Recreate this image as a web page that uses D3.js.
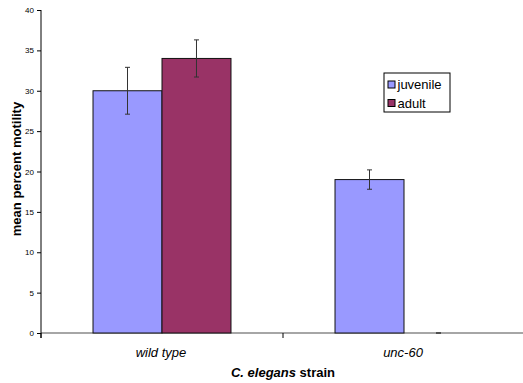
<!DOCTYPE html>
<html>
<head>
<meta charset="utf-8">
<script src="https://cdn.jsdelivr.net/npm/d3@7"></script>
<style>
  body { margin: 0; background: #fff; }
  svg { display: block; font-family: "Liberation Sans", Arial, sans-serif; }
</style>
</head>
<body>
<div class="chart"></div>
<script>
const categories = ["wild type", "unc-60"];
const series = ["juvenile", "adult"];
const juvenile = [30, 19];
const adult = [34, 0];
const juvenileErr = [2.9, 1.2];
const adultErr = [2.3, 0];
const yTicks = [0, 5, 10, 15, 20, 25, 30, 35, 40];
const colors = { juvenile: "#9999ff", adult: "#993366" };

const width = 523, height = 383;
const marginLeft = 41, marginTop = 10, plotBottom = 333, plotRight = 525;

const svg = d3.select(".chart").append("svg")
  .attr("width", width)
  .attr("height", height);

let x = d3.scaleBand().domain(categories).range([marginLeft, plotRight]).padding(0);
let x1 = d3.scaleBand().domain(series).range([0, x.bandwidth()]).paddingInner(0).paddingOuter(0.754);
let y = d3.scaleLinear().domain([0, 40]).range([plotBottom, marginTop]);

let rows = categories.map((c, i) => ({
  cat: c,
  vals: [
    { s: "juvenile", v: juvenile[i], e: juvenileErr[i] },
    { s: "adult", v: adult[i], e: adultErr[i] }
  ]
}));

// x axis line (grey)
svg.append("line")
  .attr("x1", marginLeft).attr("x2", width)
  .attr("y1", y(0)).attr("y2", y(0))
  .attr("stroke", "#888").attr("stroke-width", 1.5);

// category boundary ticks
svg.selectAll(".ctick")
  .data(categories)
  .join("line")
  .attr("x1", d => x(d)).attr("x2", d => x(d))
  .attr("y1", y(0)).attr("y2", y(0) + 5)
  .attr("stroke", "#000");

// bars
let groups = svg.selectAll(".grp")
  .data(rows)
  .join("g")
  .attr("transform", d => `translate(${x(d.cat)},0)`);

groups.selectAll("rect")
  .data(d => d.vals)
  .join("rect")
  .attr("x", d => x1(d.s))
  .attr("y", d => y(d.v))
  .attr("width", x1.bandwidth())
  .attr("height", d => y(0) - y(d.v))
  .attr("fill", d => colors[d.s])
  .attr("stroke", "#111")
  .attr("stroke-width", 1);

// error bars
let eb = groups.selectAll(".err")
  .data(d => d.vals)
  .join("g")
  .attr("stroke", "#333")
  .attr("stroke-width", 1);
eb.append("line")
  .attr("x1", d => x1(d.s) + x1.bandwidth() / 2)
  .attr("x2", d => x1(d.s) + x1.bandwidth() / 2)
  .attr("y1", d => y(d.v + d.e))
  .attr("y2", d => y(d.v - d.e));
eb.append("line")
  .attr("x1", d => x1(d.s) + x1.bandwidth() / 2 - 2.5)
  .attr("x2", d => x1(d.s) + x1.bandwidth() / 2 + 2.5)
  .attr("y1", d => y(d.v + d.e))
  .attr("y2", d => y(d.v + d.e));
eb.append("line")
  .attr("x1", d => x1(d.s) + x1.bandwidth() / 2 - 2.5)
  .attr("x2", d => x1(d.s) + x1.bandwidth() / 2 + 2.5)
  .attr("y1", d => y(d.v - d.e))
  .attr("y2", d => y(d.v - d.e));

// y axis
let yAxis = svg.append("g")
  .attr("transform", `translate(${marginLeft},0)`)
  .call(d3.axisLeft(y).tickValues(yTicks).tickSize(4).tickPadding(3));
yAxis.select(".domain").attr("d", `M-0,${marginTop}V${plotBottom + 5}`).attr("stroke", "#000");
yAxis.selectAll("text").attr("font-size", 8).attr("font-family", "Liberation Sans, Arial, sans-serif").attr("fill", "#000");

// category labels
svg.selectAll(".clabel")
  .data(categories)
  .join("text")
  .attr("x", d => x(d) + x.bandwidth() / 2 - 1)
  .attr("y", 357)
  .attr("text-anchor", "middle")
  .attr("font-size", 13)
  .attr("font-style", "italic")
  .text(d => d);

// x title
let xt = svg.append("text")
  .attr("x", 283)
  .attr("y", 377)
  .attr("text-anchor", "middle")
  .attr("font-size", 13)
  .attr("font-weight", "bold");
xt.append("tspan").attr("font-style", "italic").text("C. elegans");
xt.append("tspan").text(" strain");

// y title
svg.append("text")
  .attr("transform", "translate(21,169) rotate(-90)")
  .attr("text-anchor", "middle")
  .attr("font-size", 13)
  .attr("font-weight", "bold")
  .text("mean percent motility");

// legend
let lg = svg.append("g").attr("transform", "translate(384,73)");
lg.append("rect")
  .attr("width", 66).attr("height", 39)
  .attr("fill", "#fff").attr("stroke", "#000");
let items = lg.selectAll(".li")
  .data(series)
  .join("g")
  .attr("transform", (d, i) => `translate(4,${8 + i * 18.5})`);
items.append("rect")
  .attr("width", 7).attr("height", 7)
  .attr("fill", d => colors[d]).attr("stroke", "#000");
items.append("text")
  .attr("x", 9.5).attr("y", 8)
  .attr("font-size", 13)
  .text(d => d);
</script>
</body>
</html>
